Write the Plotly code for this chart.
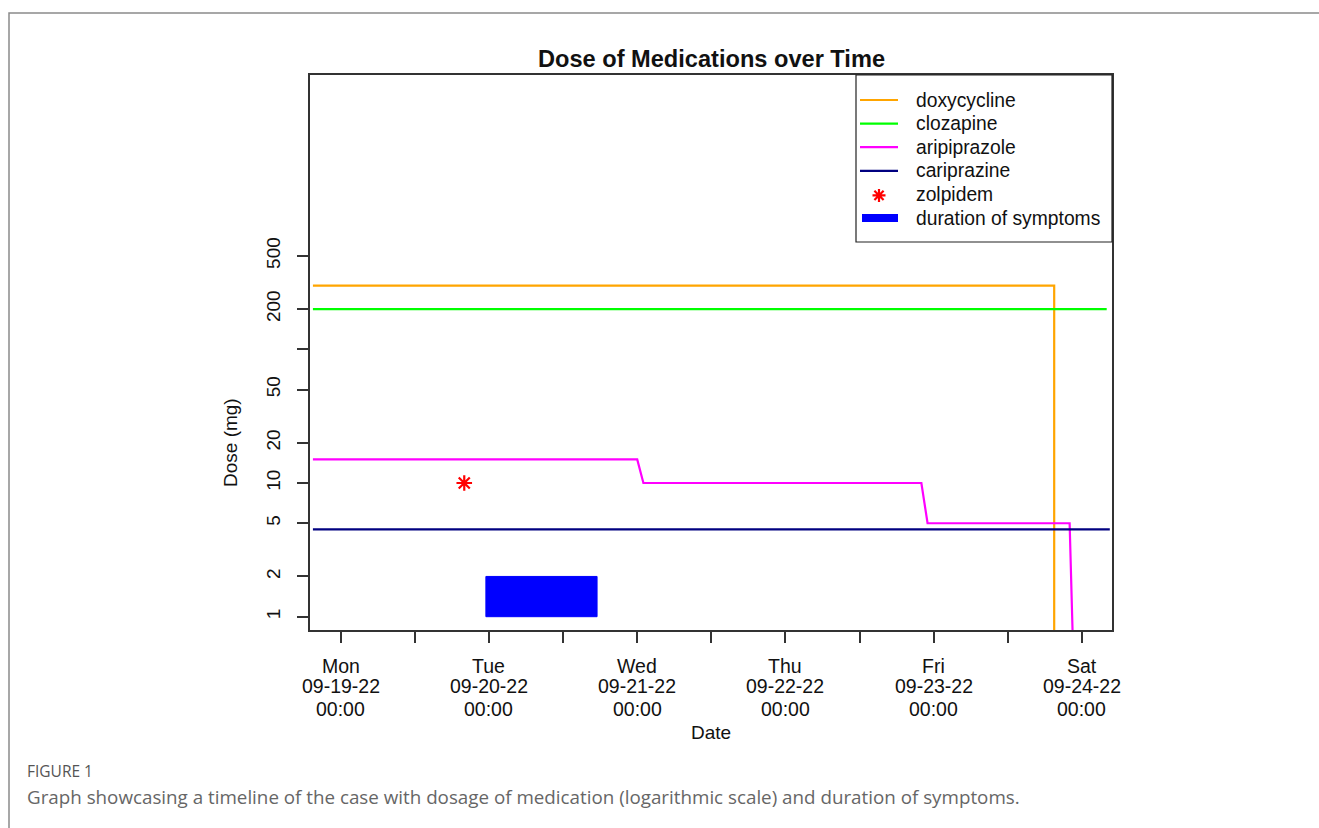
import plotly.graph_objects as go

# ---------------- data ----------------
# "off" dose: a log axis cannot show 0, so stopped drugs drop to this value (below the axis range)
DOSE_OFF = 0.1

doxy_time = ["2022-09-18 19:30", "2022-09-23 19:30", "2022-09-23 19:30"]
doxy_dose = [300, 300, DOSE_OFF]

cloz_time = ["2022-09-18 19:30", "2022-09-24 04:00"]
cloz_dose = [200, 200]

arip_time = ["2022-09-18 19:30", "2022-09-21 00:00", "2022-09-21 01:00",
             "2022-09-22 22:00", "2022-09-22 23:00", "2022-09-23 22:00", "2022-09-23 23:00"]
arip_dose = [15, 15, 10, 10, 5, 5, DOSE_OFF]

carip_time = ["2022-09-18 19:30", "2022-09-24 04:30"]
carip_dose = [4.5, 4.5]

zolp_time = ["2022-09-19 20:00"]
zolp_dose = [10]

symptom_start = "2022-09-19 23:30"
symptom_end = "2022-09-20 17:30"
symptom_low = 1
symptom_high = 2

series_names = ["doxycycline", "clozapine", "aripiprazole", "cariprazine", "zolpidem", "duration of symptoms"]
series_colors = ["#FFA500", "#00FF00", "#FF00FF", "#000080", "#FF0000", "#0000FF"]

x_tick_vals = ["2022-09-19 00:00", "2022-09-19 12:00", "2022-09-20 00:00", "2022-09-20 12:00",
               "2022-09-21 00:00", "2022-09-21 12:00", "2022-09-22 00:00", "2022-09-22 12:00",
               "2022-09-23 00:00", "2022-09-23 12:00", "2022-09-24 00:00"]
day_ticks = ["2022-09-19", "2022-09-20", "2022-09-21", "2022-09-22", "2022-09-23", "2022-09-24"]
day_names = ["Mon", "Tue", "Wed", "Thu", "Fri", "Sat"]
day_dates = ["09-19-22", "09-20-22", "09-21-22", "09-22-22", "09-23-22", "09-24-22"]
day_times = ["00:00", "00:00", "00:00", "00:00", "00:00", "00:00"]

y_tick_vals = [1, 2, 5, 10, 20, 50, 100, 200, 500]
y_tick_text = ["1", "2", "5", "10", "20", "50", "", "200", "500"]

x_range = ["2022-09-18 19:01:40", "2022-09-24 04:51:30"]
y_range_log = [-0.0995, 4.052]

# ---------------- layout helpers ----------------
W, H = 1319, 828
PL, PR, PT, PB = 310, 1112, 75, 630
FONT = "Liberation Sans, Arial, Helvetica, sans-serif"
CAP_FONT = "Open Sans, Noto Sans, sans-serif"
TXT = "#111"


def px_x(p):
    return (p - PL) / (PR - PL)


def px_y(p):
    return (PB - p) / (PB - PT)


fig = go.Figure()

for t, d, nm, col in ((doxy_time, doxy_dose, series_names[0], series_colors[0]),
                      (cloz_time, cloz_dose, series_names[1], series_colors[1]),
                      (arip_time, arip_dose, series_names[2], series_colors[2]),
                      (carip_time, carip_dose, series_names[3], series_colors[3])):
    fig.add_trace(go.Scatter(x=t, y=d, mode="lines", name=nm, showlegend=False,
                             line=dict(color=col, width=2.2)))

fig.add_trace(go.Scatter(x=zolp_time, y=zolp_dose, mode="markers", name=series_names[4], showlegend=False,
                         marker=dict(symbol="asterisk-open", size=13, color=series_colors[4],
                                     line=dict(color=series_colors[4], width=2.2))))
# symptom duration block
fig.add_trace(go.Scatter(x=[symptom_start, symptom_end, symptom_end, symptom_start, symptom_start],
                         y=[symptom_low, symptom_low, symptom_high, symptom_high, symptom_low],
                         mode="lines", fill="toself", fillcolor=series_colors[5], name=series_names[5],
                         line=dict(color=series_colors[5], width=1), showlegend=False, hoverinfo="skip"))

annotations = []
shapes = []

# outer figure frame
shapes.append(dict(type="rect", xref="paper", yref="paper",
                   x0=px_x(9), x1=px_x(1340), y0=px_y(850), y1=px_y(13),
                   line=dict(color="#8a8a8a", width=1.5), layer="below"))

# x tick label rows
for d, n, dt, tm in zip(day_ticks, day_names, day_dates, day_times):
    for txt, ypix in ((n, 666), (dt, 686), (tm, 709)):
        annotations.append(dict(x=d, xref="x", y=px_y(ypix), yref="paper", text=txt,
                                showarrow=False, xanchor="center", yanchor="middle", borderpad=0,
                                font=dict(family=FONT, size=19.5, color=TXT)))
# axis titles
annotations.append(dict(x=px_x(711), y=px_y(733), xref="paper", yref="paper", text="Date",
                        showarrow=False, xanchor="center", yanchor="middle",
                        font=dict(family=FONT, size=19, color=TXT)))
annotations.append(dict(x=px_x(230), y=px_y(443), xref="paper", yref="paper", text="Dose (mg)",
                        textangle=-90, showarrow=False, xanchor="center", yanchor="middle",
                        font=dict(family=FONT, size=19, color=TXT)))
# title
annotations.append(dict(x=px_x(711), y=px_y(59), xref="paper", yref="paper",
                        text="<b>Dose of Medications over Time</b>",
                        showarrow=False, xanchor="center", yanchor="middle",
                        font=dict(family=FONT, size=23.6, color=TXT)))
# caption
annotations.append(dict(x=px_x(25), y=px_y(771), xref="paper", yref="paper", text="FIGURE 1",
                        showarrow=False, xanchor="left", yanchor="middle",
                        font=dict(family=CAP_FONT, size=15.5, color="#555")))
annotations.append(dict(x=px_x(25), y=px_y(797), xref="paper", yref="paper",
                        text="Graph showcasing a timeline of the case with dosage of medication "
                             "(logarithmic scale) and duration of symptoms.",
                        showarrow=False, xanchor="left", yanchor="middle",
                        font=dict(family=CAP_FONT, size=18.8, color="#666")))

# legend (drawn as a box with keys, matching the original layout)
LEG_L, LEG_R, LEG_T, LEG_B = 856, 1112, 75, 242
shapes.append(dict(type="rect", xref="paper", yref="paper",
                   x0=px_x(LEG_L), x1=px_x(LEG_R), y0=px_y(LEG_B), y1=px_y(LEG_T),
                   line=dict(color="#222", width=1.2), fillcolor="white", layer="above"))
row_y = [100, 123.6, 147.2, 170.8, 194.4, 218]
key_x0, key_x1, key_xc = 860, 898, 879
for i, (nm, col) in enumerate(zip(series_names, series_colors)):
    yy = row_y[i]
    if i < 4:
        shapes.append(dict(type="line", xref="paper", yref="paper",
                           x0=px_x(key_x0), x1=px_x(key_x1), y0=px_y(yy), y1=px_y(yy),
                           line=dict(color=col, width=2.2), layer="above"))
    elif i == 4:
        shapes.append(dict(type="path", xref="paper", yref="paper",
                           xsizemode="pixel", ysizemode="pixel",
                           xanchor=px_x(key_xc), yanchor=px_y(yy + 1),
                           path="M-6.5,0H6.5M0,-6.5V6.5M-4.6,-4.6L4.6,4.6M-4.6,4.6L4.6,-4.6",
                           line=dict(color=col, width=2.2), layer="above"))
    else:
        shapes.append(dict(type="line", xref="paper", yref="paper",
                           x0=px_x(key_x0 + 2), x1=px_x(key_x1 + 0), y0=px_y(yy), y1=px_y(yy),
                           line=dict(color=col, width=8), layer="above"))
    annotations.append(dict(x=px_x(915), y=px_y(yy), xref="paper", yref="paper", text=nm,
                            showarrow=False, xanchor="left", yanchor="middle", borderpad=0,
                            font=dict(family=FONT, size=19.3, color=TXT)))

fig.update_layout(
    width=W, height=H,
    margin=dict(l=PL, r=W - PR, t=PT, b=H - PB),
    paper_bgcolor="white", plot_bgcolor="white",
    font=dict(family=FONT, size=19, color=TXT),
    showlegend=False,
    annotations=annotations,
    shapes=shapes,
    xaxis=dict(type="date", range=x_range, tickvals=x_tick_vals, showticklabels=False,
               ticks="outside", ticklen=11, tickwidth=1.5, tickcolor="#333",
               showline=True, linecolor="#333", linewidth=1.5, mirror=True,
               showgrid=False, zeroline=False),
    yaxis=dict(type="log", range=y_range_log, tickvals=y_tick_vals, ticktext=y_tick_text,
               tickangle=-90, ticks="outside", ticklen=11, tickwidth=1.5, tickcolor="#333",
               ticklabelstandoff=10,
               tickfont=dict(family=FONT, size=19, color=TXT),
               showline=True, linecolor="#333", linewidth=1.5, mirror=True,
               showgrid=False, zeroline=False),
)

fig.write_html("out.html", config={"displayModeBar": False},
               post_script="document.body.style.margin='0';document.body.style.overflow='hidden';")
